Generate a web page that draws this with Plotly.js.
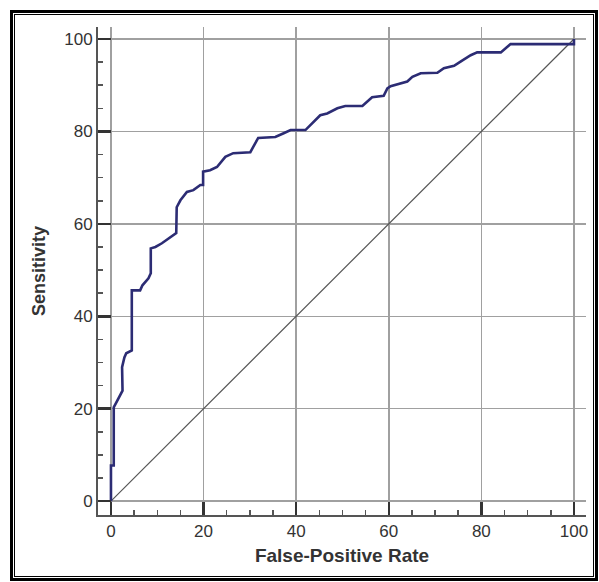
<!DOCTYPE html>
<html>
<head>
<meta charset="utf-8">
<script src="https://cdn.plot.ly/plotly-3.0.1.min.js"></script>
<style>
  html, body { margin: 0; padding: 0; background: #fff; }
  #wrap { position: relative; width: 599px; height: 582px; overflow: hidden; }
  #chart { position: absolute; left: 0; top: 0; width: 599px; height: 582px; }
  #frameOuter { position: absolute; left: 10px; top: 10px; width: 588px; height: 571px; border: 3px solid #000; box-sizing: border-box; pointer-events: none; }
  #frameInner { position: absolute; left: 14px; top: 14px; width: 580px; height: 563px; border: 1px solid #000; box-sizing: border-box; pointer-events: none; }
</style>
</head>
<body>
<div id="wrap">
  <div id="chart"></div>
  <div id="frameOuter"></div>
  <div id="frameInner"></div>
</div>
<script>
// ROC curve vertices (False-Positive Rate %, Sensitivity %)
const fpr = [0, 0, 0.6, 0.6, 2.5, 2.4, 2.9, 3.3, 4.5, 4.5, 6.3, 6.8, 8.1, 8.6, 8.6,
  9.6, 11.0, 12.8, 14.1, 14.2, 15.0, 16.4, 17.8, 19.3, 19.9, 19.9, 21.4, 22.9, 24.7,
  26.4, 30.1, 31.8, 35.5, 37.3, 38.8, 42.0, 45.2, 46.7, 48.9, 50.6, 54.3, 56.4, 58.9,
  59.7, 60.4, 64.0, 65.1, 66.9, 70.5, 71.9, 74.1, 75.5, 77.7, 79.1, 84.2, 86.3, 100, 100];
const sensitivity = [0, 7.7, 7.7, 20.3, 23.9, 29.0, 31.1, 32.0, 32.6, 45.6, 45.6, 46.7, 48.2, 49.3, 54.7,
  55.0, 55.8, 57.1, 58.0, 63.6, 65.1, 66.9, 67.3, 68.4, 68.4, 71.3, 71.6, 72.3, 74.5,
  75.3, 75.5, 78.6, 78.8, 79.6, 80.3, 80.3, 83.5, 83.9, 85.0, 85.5, 85.5, 87.4, 87.7,
  89.3, 89.8, 90.8, 91.8, 92.6, 92.7, 93.7, 94.2, 95.1, 96.5, 97.1, 97.1, 98.9, 98.9, 100];
// Reference (chance) diagonal
const diagX = [0, 100];
const diagY = [0, 100];
const tickVals = [0, 20, 40, 60, 80, 100];
const tickText = ["0", "20", "40", "60", "80", "100"];

const axisCommon = {
  tickmode: 'array', tickvals: tickVals, ticktext: tickText,
  ticks: 'inside', ticklen: 13, tickwidth: 2.5, tickcolor: '#333',
  showgrid: true, gridcolor: '#a0a0a0', gridwidth: 1.5,
  zeroline: false, showline: true, linecolor: '#555', linewidth: 2,
  tickfont: { family: 'Arial, "Liberation Sans", sans-serif', size: 17, color: '#333' },
  minor: { dtick: 5, tick0: 0, ticks: 'inside', ticklen: 5, tickwidth: 1.5, tickcolor: '#555', showgrid: false },
  fixedrange: true
};

const data = [
  { x: diagX, y: diagY, type: 'scatter', mode: 'lines',
    line: { color: '#555555', width: 1.2 }, hoverinfo: 'skip', showlegend: false },
  { x: fpr, y: sensitivity, type: 'scatter', mode: 'lines',
    line: { color: '#2c2c74', width: 2.6 }, showlegend: false }
];

const layout = {
  width: 599, height: 582,
  margin: { l: 98, r: 13, t: 27, b: 67 },
  paper_bgcolor: '#ffffff', plot_bgcolor: '#ffffff',
  xaxis: Object.assign({}, axisCommon, {
    range: [-2.8, 102.6],
    title: { text: 'False-Positive Rate', standoff: 8,
      font: { family: 'Arial, "Liberation Sans", sans-serif', size: 19, color: '#333', weight: 'bold' } }
  }),
  yaxis: Object.assign({}, axisCommon, {
    range: [-3, 102.6],
    title: { text: 'Sensitivity', standoff: 14,
      font: { family: 'Arial, "Liberation Sans", sans-serif', size: 18, color: '#333', weight: 'bold' } }
  })
};

Plotly.newPlot('chart', data, layout, { displayModeBar: false, staticPlot: true });
</script>
</body>
</html>
